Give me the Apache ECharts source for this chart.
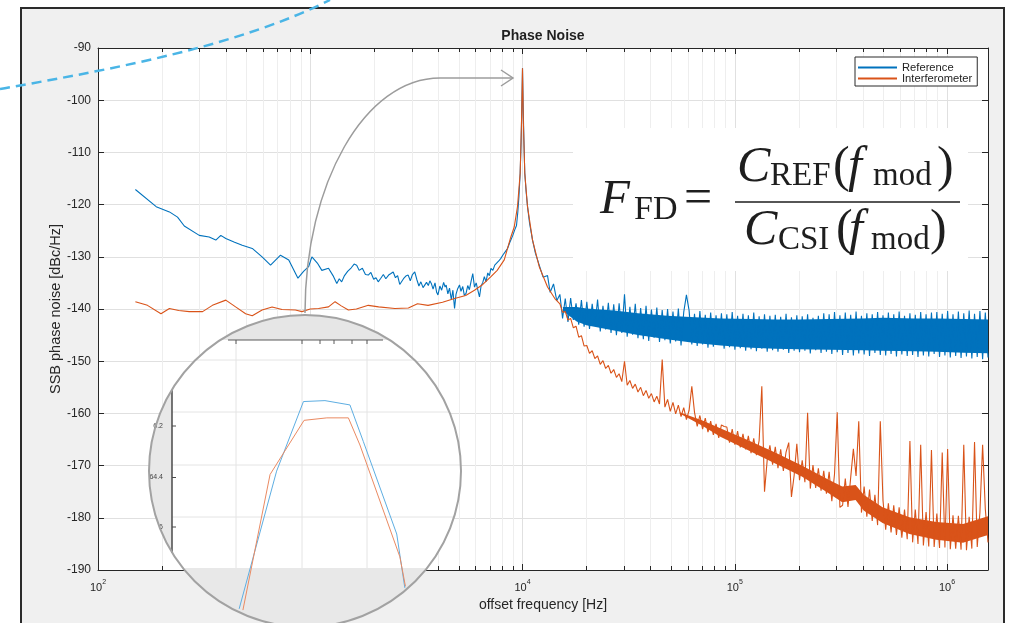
<!DOCTYPE html>
<html><head><meta charset="utf-8">
<script src="https://cdn.jsdelivr.net/npm/echarts@6/dist/echarts.min.js"></script>
<style>html,body{margin:0;padding:0;background:#fff}#c{width:1015px;height:623px}</style>
</head><body><div id="c"></div>
<script>
// ---------------- data ----------------
// Reference (blue) below ~15 kHz: [frequency Hz, dBc/Hz]
const referenceLow = [[150,-117.1],[188,-120.4],[217,-121.4],[237,-122.4],[255,-124.1],[300,-125.9],[334,-126.2],[359,-126.8],[379,-125.9],[400,-126.5],[440,-127.2],[478,-127.8],[533,-128.4],[593,-130.0],[650,-131.6],[724,-129.7],[792,-130.6],[875,-134.1],[930,-132.8],[982,-131.9],[1018,-130.0],[1080,-131.2],[1134,-132.6],[1219,-132.2],[1280,-133.6],[1334,-135.1],[1370,-134.2],[1406,-134.8],[1450,-133.6],[1500,-132.8],[1560,-132.1],[1610,-131.4],[1655,-131.6],[1700,-132.6],[1760,-132.2],[1820,-133.4],[1877,-133.5],[1930,-133.0],[1990,-134.3],[2040,-134.0],[2090,-134.8],[2150,-134.1],[2210,-133.4],[2270,-134.2],[2340,-133.5],[2400,-133.2],[2459,-132.9],[2520,-134.0],[2580,-133.6],[2640,-135.3],[2692,-135.1],[2750,-134.2],[2820,-133.7],[2893,-133.5],[2960,-134.6],[3030,-133.4],[3107,-132.9],[3180,-134.4],[3250,-135.6],[3320,-134.8],[3400,-135.9],[3460,-136.1],[3530,-134.9],[3600,-135.5],[3660,-134.6],[3718,-135.1],[3790,-136.2],[3870,-135.0],[3940,-136.8],[3996,-137.3],[4080,-135.6],[4160,-136.4],[4250,-134.9],[4320,-135.8],[4368,-135.4],[4450,-137.1],[4530,-136.0],[4620,-138.2],[4700,-136.4],[4785,-139.9],[4860,-137.2],[4950,-136.1],[5049,-135.4],[5130,-136.6],[5230,-135.7],[5320,-137.4],[5420,-137.0],[5520,-135.5],[5620,-136.3],[5730,-134.6],[5830,-133.2],[5940,-135.8],[6050,-135.0],[6160,-136.4],[6270,-137.7],[6380,-135.6],[6500,-134.9],[6610,-133.8],[6730,-134.8],[6860,-133.1],[6980,-133.6],[7100,-132.2],[7250,-132.6],[7400,-131.6],[7560,-131.9],[7730,-130.8],[7907,-130.3],[8100,-129.6],[8300,-129.0],[8500,-128.4],[8700,-127.3],[8810,-126.8],[9000,-125.9],[9200,-124.8],[9370,-124.0],[9500,-121.5],[9620,-118.5],[9750,-114.0],[9850,-108.0],[9930,-101.0],[10000,-93.9],[10070,-101.0],[10150,-107.5],[10250,-114.0],[10400,-117.5],[10560,-120.4],[10800,-123.6],[11150,-126.8],[11500,-129.3],[11990,-131.6],[12500,-133.9],[13120,-133.6],[13500,-136.8],[14000,-135.2],[14500,-138.4]];

// Interferometer (orange) below ~15 kHz
const interferometerLow = [[150,-138.6],[171,-139.3],[198,-140.9],[217,-139.9],[240,-140.3],[269,-140.5],[311,-140.5],[346,-139.3],[400,-138.3],[445,-139.6],[496,-140.9],[533,-141.3],[593,-140.2],[661,-139.6],[736,-140.1],[851,-140.2],[914,-140.5],[1000,-140.0],[1094,-139.9],[1219,-139.6],[1309,-138.6],[1400,-139.4],[1512,-140.2],[1650,-140.0],[1877,-139.3],[2100,-139.6],[2504,-139.9],[2900,-139.8],[3200,-139.0],[3589,-139.3],[4200,-138.7],[4785,-138.0],[5400,-137.4],[5938,-136.4],[6500,-135.3],[7100,-133.8],[7600,-132.6],[8203,-130.6],[8810,-126.2],[9140,-124.3],[9470,-120.4],[9750,-114.0],[9890,-104.5],[10000,-93.9],[10100,-104.5],[10250,-114.0],[10560,-120.4],[11150,-126.8],[11990,-131.9],[13120,-135.8],[14200,-138.0]];

// High-frequency part: FFT-bin sampling grid (log spaced) and the values read per bin
const tailStartHz = 15000, tailEndHz = 1.56e6, tailCount = 160;
const referenceTail = [
-137.2,-141.8,-138.0,-142.5,-137.9,-142.1,-138.9,-143.0,-138.3,-143.4,
-138.6,-143.8,-139.0,-143.2,-138.2,-144.3,-139.4,-143.9,-138.8,-144.6,
-139.1,-145.0,-138.9,-144.6,-137.2,-145.3,-139.6,-144.9,-139.0,-145.6,
-139.8,-145.8,-139.4,-146.1,-140.1,-145.5,-139.7,-146.3,-140.2,-146.0,
-140.0,-146.6,-140.5,-146.2,-139.9,-147.0,-140.6,-137.3,-140.3,-146.8,
-140.9,-147.1,-140.4,-146.8,-141.1,-147.4,-140.7,-147.2,-141.2,-146.9,
-140.8,-147.6,-141.0,-147.3,-140.6,-147.8,-141.3,-147.5,-140.9,-148.0,
-141.2,-147.7,-140.7,-148.1,-141.4,-147.6,-141.0,-148.2,-141.3,-147.9,
-141.1,-148.2,-141.5,-147.8,-140.9,-148.4,-141.6,-148.0,-141.2,-148.3,
-141.4,-148.0,-141.0,-148.5,-141.7,-147.9,-141.3,-148.4,-140.8,-148.2,
-141.0,-148.6,-140.6,-148.3,-141.2,-148.8,-140.7,-148.4,-141.1,-148.9,
-140.5,-148.5,-141.3,-148.7,-140.8,-149.0,-141.0,-148.4,-140.6,-148.8,
-141.2,-148.9,-140.7,-148.6,-141.0,-149.1,-140.5,-148.7,-141.3,-149.0,
-140.8,-148.8,-141.1,-149.2,-140.6,-148.9,-141.0,-149.1,-140.7,-148.6,
-140.6,-149.2,-140.9,-148.9,-140.4,-149.3,-141.0,-149.0,-140.5,-149.4,
-140.8,-149.1,-140.3,-149.5,-140.9,-149.2,-140.4,-149.6,-140.7,-149.3];
const interferometerTail = [
-139.0,-140.6,-140.5,-142.1,-141.8,-143.6,-143.3,-145.4,-145.1,-147.1,
-147.0,-148.5,-148.0,-149.5,-149.0,-150.6,-149.9,-151.4,-150.8,-152.3,
-151.6,-153.1,-152.4,-153.9,-150.0,-154.6,-153.7,-155.2,-154.4,-155.9,
-155.0,-156.6,-155.6,-157.1,-156.2,-157.8,-156.7,-158.2,-149.7,-158.8,
-157.3,-159.6,-157.9,-160.1,-158.4,-160.6,-158.9,-161.2,-159.4,-154.8,
-159.8,-162.5,-160.4,-163.0,-160.9,-163.6,-161.5,-164.1,-162.0,-164.7,
-162.2,-162.5,-162.6,-165.6,-163.0,-166.0,-163.4,-166.5,-163.9,-166.9,
-164.3,-167.6,-164.8,-168.0,-165.2,-154.8,-175.0,-168.9,-166.1,-169.8,
-166.4,-170.5,-166.9,-171.0,-167.4,-165.6,-176.0,-171.9,-165.8,-172.8,
-169.0,-173.2,-159.9,-174.4,-169.9,-174.3,-170.5,-174.8,-171.0,-175.4,
-171.2,-176.8,-171.6,-159.8,-178.0,-177.6,-172.5,-177.9,-172.3,-166.8,
-172.0,-161.5,-179.0,-174.0,-179.8,-174.6,-180.6,-175.6,-181.4,-161.5,
-176.7,-182.3,-177.2,-182.8,-177.6,-183.3,-178.0,-183.8,-178.4,-184.1,
-165.3,-184.7,-178.4,-185.0,-166.0,-185.3,-178.9,-185.5,-167.0,-185.6,
-179.2,-185.8,-167.5,-185.7,-166.8,-186.0,-179.5,-185.9,-179.6,-186.1,
-166.0,-186.2,-179.8,-185.9,-165.5,-185.6,-179.0,-166.0,-178.3,-184.7];

// Dense core of the noisy bands: [frequency Hz, upper dBc/Hz, lower dBc/Hz]
const referenceBand = [[15500,-139.6,-140.4],[18000,-139.6,-142.4],[20000,-139.9,-143.1],[27000,-140.3,-144.1],[35000,-140.8,-145.0],[48000,-141.3,-145.8],[65000,-141.6,-146.5],[86000,-141.8,-147.0],[120000,-141.9,-147.4],[155000,-142.0,-147.6],[200000,-142.0,-147.7],[280000,-141.9,-147.8],[400000,-141.8,-147.9],[500000,-141.7,-148.0],[700000,-141.8,-148.1],[900000,-141.8,-148.2],[1200000,-141.9,-148.4],[1560000,-142.0,-148.5]];
const interferometerBand = [[55000,-159.8,-160.0],[70000,-161.3,-162.3],[86000,-162.9,-164.5],[115000,-165.1,-167.0],[155000,-167.5,-169.6],[207000,-170.0,-172.1],[277000,-172.7,-175.3],[321000,-174.0,-177.0],[371000,-173.7,-176.6],[405000,-175.6,-178.6],[497000,-178.0,-181.0],[665000,-179.9,-183.1],[891000,-180.8,-184.2],[1190000,-181.2,-184.8],[1560000,-179.7,-183.3]];

// Minor log grid positions
const minorFreqs = [200,300,400,500,600,700,800,900,2000,3000,4000,5000,6000,7000,8000,9000,
  20000,30000,40000,50000,60000,70000,80000,90000,200000,300000,400000,500000,600000,700000,800000,900000];

// Magnifier inset (units: percent of the lens box)
const insetReference = [[28.9,4.6],[40.9,49.3],[49.5,71.9],[56.4,72.2],[64.4,70.8],[68.7,58.9],[79.4,28.9],[82.0,11.4]];
const insetInterferometer = [[30.1,4.2],[38.8,48.2],[49.7,65.8],[57.0,66.6],[63.9,66.6],[67.6,57.8],[80.4,21.5],[82.2,11.9]];
const insetTickLabels = ['6.2','64.4','6'];

const seriesNames = ['Reference','Interferometer'];
const yTitle = 'SSB phase noise [dBc/Hz]';
const xTitle = 'offset frequency [Hz]';
const chartTitle = 'Phase Noise';

// ---------------- build ----------------
const tailFreqs = [];
for (let i = 0; i < tailCount; i++) tailFreqs.push(tailStartHz * Math.pow(tailEndHz / tailStartHz, i / (tailCount - 1)));
const refData = referenceLow.concat(referenceTail.map((v, i) => [tailFreqs[i], v]));
const ifmData = interferometerLow.concat(interferometerTail.map((v, i) => [tailFreqs[i], v]));

const SANS = '"Liberation Sans", Arial, sans-serif';
const SERIF = '"Liberation Serif", "Times New Roman", serif';
const AX = '#262626';
const BLUE = '#0072bd', ORANGE = '#d95319';

// lens geometry (decoration)
const L = {cx: 305, cy: 471, r: 156, topY: 340, leftX: 172, botY: 568};
function lensInterior() {
  const right = [], left = [];
  for (let i = 0; i <= 120; i++) {
    const y = L.topY + (L.botY - L.topY) * i / 120;
    const w = Math.sqrt(Math.max(0, L.r * L.r - (y - L.cy) * (y - L.cy)));
    right.push([L.cx + w, y]);
    left.push([Math.max(L.leftX, L.cx - w), y]);
  }
  return right.concat(left.reverse());
}
function topCap() {
  const dy = L.topY - L.cy, w = Math.sqrt(L.r * L.r - dy * dy), p = [];
  for (let i = 0; i <= 80; i++) {
    const x = L.cx - w + 2 * w * i / 80;
    const h = Math.sqrt(Math.max(0, L.r * L.r - (x - L.cx) * (x - L.cx)));
    p.push([x, Math.min(L.topY, L.cy - h)]);
  }
  return p;
}
const graphics = [];
graphics.push({type: 'rect', shape: {x: 21, y: 8, width: 983, height: 640}, style: {fill: '#f0f0f0', stroke: '#2b2b2b', lineWidth: 2}, z: -10, silent: true});
graphics.push({type: 'rect', shape: {x: 98, y: 48, width: 890, height: 522}, style: {fill: '#ffffff'}, z: -9, silent: true});
// formula panel
graphics.push({type: 'rect', shape: {x: 573, y: 128, width: 395, height: 143}, style: {fill: '#ffffff'}, z: 3, silent: true});
function tx(x, y, text, size, italic) {
  return {type: 'text', x: x, y: y, z: 4, silent: true,
    style: {text: text, fontFamily: SERIF, fontSize: size, fontStyle: italic ? 'italic' : 'normal', fill: '#1e1e1e',
      textAlign: 'left', align: 'left', verticalAlign: 'middle', textVerticalAlign: 'middle'}};
}
graphics.push(tx(600, 200.5, 'F', 49, true));
graphics.push(tx(634, 210.2, 'FD', 34, false));
graphics.push(tx(684, 200, '=', 50, false));
graphics.push({type: 'line', shape: {x1: 735, y1: 202, x2: 960, y2: 202}, style: {stroke: '#1e1e1e', lineWidth: 1.4}, z: 4, silent: true});
graphics.push(tx(737, 168.1, 'C', 50, true));
graphics.push(tx(770, 176.5, 'REF', 33, false));
graphics.push(tx(833, 168.1, '(', 50, false));
graphics.push(tx(848, 168.1, 'f', 50, true));
graphics.push(tx(873, 176.5, 'mod', 33, false));
graphics.push(tx(937, 168.1, ')', 50, false));
graphics.push(tx(744, 231.1, 'C', 50, true));
graphics.push(tx(778, 240.2, 'CSI', 33, false));
graphics.push(tx(836, 231.1, '(', 50, false));
graphics.push(tx(849, 231.1, 'f', 50, true));
graphics.push(tx(871, 240.2, 'mod', 33, false));
graphics.push(tx(930, 231.1, ')', 50, false));
// lens: gray disc, white interior, inner grid and frame
graphics.push({type: 'circle', shape: {cx: L.cx, cy: L.cy, r: L.r}, style: {fill: '#e8e8e8'}, z: 4, silent: true});
graphics.push({type: 'polygon', shape: {points: lensInterior()}, style: {fill: '#ffffff'}, z: 4.1, silent: true});
[236, 302, 367].forEach(x => {
  const h = Math.sqrt(L.r * L.r - (x - L.cx) * (x - L.cx));
  graphics.push({type: 'line', shape: {x1: x, y1: Math.max(L.topY, L.cy - h), x2: x, y2: Math.min(L.botY, L.cy + h)}, style: {stroke: '#e4e4e4', lineWidth: 1}, z: 4.2, silent: true});
});
[360, 412, 465, 517].forEach(y => {
  const w = Math.sqrt(L.r * L.r - (y - L.cy) * (y - L.cy));
  graphics.push({type: 'line', shape: {x1: Math.max(L.leftX, L.cx - w), y1: y, x2: L.cx + w, y2: y}, style: {stroke: '#e4e4e4', lineWidth: 1}, z: 4.2, silent: true});
});
graphics.push({type: 'line', shape: {x1: L.leftX, y1: 390, x2: L.leftX, y2: 553}, style: {stroke: '#4a4a4a', lineWidth: 1.5}, z: 5, silent: true});
[426, 477.5, 527].forEach((y, i) => {
  graphics.push({type: 'line', shape: {x1: L.leftX, y1: y, x2: L.leftX + 4, y2: y}, style: {stroke: '#4a4a4a', lineWidth: 1}, z: 5, silent: true});
  graphics.push({type: 'text', x: 163, y: y, z: 5, silent: true, style: {text: insetTickLabels[i], fontFamily: SANS, fontSize: 7, fill: '#444', align: 'right', textAlign: 'right', verticalAlign: 'middle', textVerticalAlign: 'middle'}});
});
// top layer (separate canvas layer): upper cap of the lens, its frame line, outline, arrow, dashed arc
graphics.push({type: 'polygon', shape: {points: topCap()}, style: {fill: '#e6e6e6'}, zlevel: 1, z: 1, silent: true});
graphics.push({type: 'line', shape: {x1: 228, y1: L.topY, x2: 383, y2: L.topY}, style: {stroke: '#5a5a5a', lineWidth: 1}, zlevel: 1, z: 2, silent: true});
[236, 302, 320, 334, 352, 367].forEach(x => graphics.push({type: 'line', shape: {x1: x, y1: L.topY, x2: x, y2: L.topY + 4}, style: {stroke: '#5a5a5a', lineWidth: 1}, zlevel: 1, z: 2, silent: true}));
graphics.push({type: 'circle', shape: {cx: L.cx, cy: L.cy, r: L.r}, style: {fill: 'transparent', stroke: '#a2a2a2', lineWidth: 2}, zlevel: 1, z: 3, silent: true});
const AR = '#9c9c9c';
graphics.push({type: 'bezierCurve', shape: {x1: 305, y1: 313, cpx1: 305, cpy1: 183, cpx2: 365, cpy2: 78, x2: 440, y2: 78}, style: {stroke: AR, lineWidth: 1.5, fill: 'transparent'}, zlevel: 1, z: 4, silent: true});
graphics.push({type: 'line', shape: {x1: 440, y1: 78, x2: 513, y2: 78}, style: {stroke: AR, lineWidth: 1.5}, zlevel: 1, z: 4, silent: true});
graphics.push({type: 'polyline', shape: {points: [[501, 70], [513, 78], [501, 86]]}, style: {stroke: AR, lineWidth: 1.5, fill: 'transparent'}, zlevel: 1, z: 4, silent: true});
graphics.push({type: 'bezierCurve', shape: {x1: 0, y1: 89, cpx1: 120, cpy1: 68, cpx2: 240, cpy2: 45, x2: 330, y2: 0}, style: {stroke: '#4ab5e6', lineWidth: 2.5, lineDash: [10, 6], fill: 'transparent'}, zlevel: 1, z: 5, silent: true});

// filled core of a noisy band, drawn through the axes' coordinate mapping
function bandSeries(band, color) {
  return {type: 'custom', xAxisIndex: 0, yAxisIndex: 0, silent: true, z: 2,
    data: [[band[0][0], band[0][1]]], encode: {x: 0, y: 1},
    renderItem: (params, api) => {
      const upper = band.map(b => api.coord([b[0], b[1]]));
      const lower = band.slice().reverse().map(b => api.coord([b[0], b[2]]));
      return {type: 'polygon', shape: {points: upper.concat(lower)}, style: {fill: color}};
    }};
}

const chart = echarts.init(document.getElementById('c'), null, {renderer: 'canvas', width: 1015, height: 623});
chart.setOption({
  backgroundColor: '#ffffff',
  animation: false,
  title: {text: chartTitle, left: 543, top: 29, padding: 0, textAlign: 'center',
    textStyle: {fontFamily: SANS, fontSize: 14, fontWeight: 'bold', color: '#1f1f1f'}},
  legend: {data: seriesNames, orient: 'vertical', left: 855, top: 57, padding: [5, 5, 2, 3], itemGap: 0,
    itemWidth: 39, itemHeight: 2, icon: 'rect', backgroundColor: '#ffffff', borderColor: '#2b2b2b', borderWidth: 1,
    selectedMode: false, textStyle: {fontFamily: SANS, fontSize: 11.2, color: '#222', lineHeight: 9}},
  grid: [{left: 98, top: 48, right: 27, bottom: 53}, {left: L.cx - L.r, top: L.cy - L.r, width: 2 * L.r, height: 2 * L.r}],
  xAxis: [
    {type: 'log', logBase: 10, gridIndex: 0, min: 100, max: 1.56e6, position: 'bottom',
      axisLine: {lineStyle: {color: AX, width: 1}}, axisTick: {inside: true, length: 6, lineStyle: {color: AX}},
      axisLabel: {margin: 9, showMaxLabel: false, formatter: v => '{b|10}{s|' + Math.round(Math.log10(v)) + '}',
        rich: {b: {fontFamily: SANS, fontSize: 11, color: AX, lineHeight: 14, verticalAlign: 'bottom'},
               s: {fontFamily: SANS, fontSize: 7, color: AX, lineHeight: 8, verticalAlign: 'top'}}},
      splitLine: {show: true, lineStyle: {color: '#e0e0e0', width: 1}},
      name: xTitle, nameLocation: 'middle', nameGap: 26, nameTextStyle: {fontFamily: SANS, fontSize: 14, color: AX}},
    {type: 'log', logBase: 10, gridIndex: 0, min: 100, max: 1.56e6, position: 'top',
      axisLine: {lineStyle: {color: AX, width: 1}}, axisTick: {inside: true, length: 6, lineStyle: {color: AX}},
      axisLabel: {show: false}, splitLine: {show: false}},
    {type: 'value', gridIndex: 1, min: 0, max: 100, show: false}
  ],
  yAxis: [
    {type: 'value', gridIndex: 0, min: -190, max: -90, interval: 10, position: 'left',
      axisLine: {show: true, lineStyle: {color: AX, width: 1}}, axisTick: {show: true, inside: true, length: 6, lineStyle: {color: AX}},
      axisLabel: {margin: 7, fontFamily: SANS, fontSize: 12, color: AX},
      splitLine: {show: true, lineStyle: {color: '#e0e0e0', width: 1}},
      name: yTitle, nameLocation: 'middle', nameGap: 35, nameMoveOverlap: false,
      nameTextStyle: {fontFamily: SANS, fontSize: 14.5, color: AX}},
    {type: 'value', gridIndex: 0, min: -190, max: -90, interval: 10, position: 'right',
      axisLine: {show: true, lineStyle: {color: AX, width: 1}}, axisTick: {show: true, inside: true, length: 6, lineStyle: {color: AX}},
      axisLabel: {show: false}, splitLine: {show: false}},
    {type: 'value', gridIndex: 1, min: 0, max: 100, show: false}
  ],
  series: [
    {type: 'custom', name: 'minor-grid', xAxisIndex: 0, yAxisIndex: 0, silent: true, z: 1,
      data: minorFreqs.map(f => [f, -140]), encode: {x: 0, y: 1},
      renderItem: (params, api) => {
        const f = api.value(0);
        const t = api.coord([f, -90]), b = api.coord([f, -190]);
        const x = Math.round(t[0]) + 0.5;
        return {type: 'group', children: [
          {type: 'line', shape: {x1: x, y1: t[1], x2: x, y2: b[1]}, style: {stroke: '#eeeeee', lineWidth: 1}},
          {type: 'line', shape: {x1: x, y1: b[1], x2: x, y2: b[1] - 4}, style: {stroke: AX, lineWidth: 1}},
          {type: 'line', shape: {x1: x, y1: t[1], x2: x, y2: t[1] + 4}, style: {stroke: AX, lineWidth: 1}}
        ]};
      }},
    bandSeries(referenceBand, BLUE),
    {type: 'line', name: seriesNames[0], xAxisIndex: 0, yAxisIndex: 0, data: refData, symbol: 'none', showSymbol: false,
      lineStyle: {color: BLUE, width: 1.1}, itemStyle: {color: BLUE}, emphasis: {disabled: true}, z: 2},
    bandSeries(interferometerBand, ORANGE),
    {type: 'line', name: seriesNames[1], xAxisIndex: 0, yAxisIndex: 0, data: ifmData, symbol: 'none', showSymbol: false,
      lineStyle: {color: ORANGE, width: 1.1}, itemStyle: {color: ORANGE}, emphasis: {disabled: true}, z: 2},
    {type: 'line', name: 'inset-ref', xAxisIndex: 2, yAxisIndex: 2, data: insetReference, symbol: 'none', silent: true,
      lineStyle: {color: '#5eaee2', width: 1}, emphasis: {disabled: true}, z: 6},
    {type: 'line', name: 'inset-ifm', xAxisIndex: 2, yAxisIndex: 2, data: insetInterferometer, symbol: 'none', silent: true,
      lineStyle: {color: '#ea8a62', width: 1}, emphasis: {disabled: true}, z: 6}
  ],
  graphic: graphics
});
</script></body></html>
